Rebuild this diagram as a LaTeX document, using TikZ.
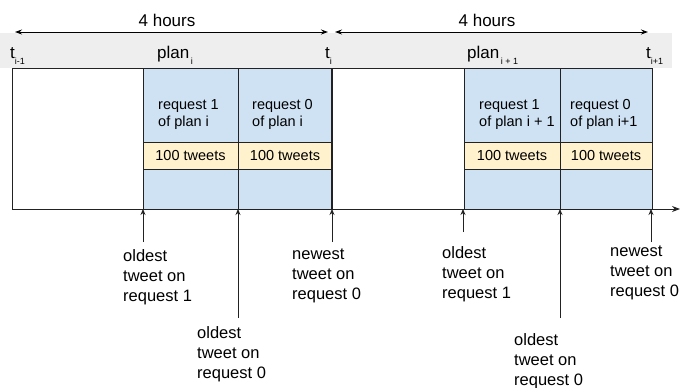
\documentclass[tikz,border=0pt]{standalone}
\usepackage{fontspec}
\setmainfont{Liberation Sans}
\usepackage{tikz}
\usetikzlibrary{arrows.meta, positioning, calc}

\definecolor{bandgray}{HTML}{EEEEEE}
\definecolor{reqblue}{HTML}{CFE2F3}
\definecolor{tweetyellow}{HTML}{FFF2CC}
\definecolor{linegray}{HTML}{222222}

\newcommand{\lowsub}[1]{\raisebox{-6pt}{\fontsize{9}{9}\selectfont #1}}

\tikzset{
  reqcell/.style={draw=linegray, line width=1pt, fill=reqblue},
  tweetcell/.style={draw=linegray, line width=1pt, fill=tweetyellow, minimum height=27pt, inner sep=0pt, font=\fontsize{14.5}{17}\selectfont},
  reqlabel/.style={anchor=north west, inner sep=0pt, align=left, font=\fontsize{14.5}{17}\selectfont},
  mark label/.style={anchor=north west, inner sep=0pt, align=left, font=\fontsize{16.5}{20}\selectfont},
  toplabel/.style={anchor=base west, inner sep=0pt, font=\fontsize{17}{20}\selectfont},
  tick arrow/.style={-{Stealth[length=6pt,width=5pt]}, line width=0.9pt, draw=linegray},
  span arrow/.style={{Stealth[length=7pt,width=5pt]}-{Stealth[length=7pt,width=5pt]}, line width=0.9pt}
}

\begin{document}
\begin{tikzpicture}[x=1pt, y=-1pt]
\useasboundingbox (0,0) rectangle (680,388);

% Band with the plan boundaries
\fill[bandgray] (0,33) rectangle (672,68);

% Plan boxes
\draw[linegray, line width=1pt, fill=white] (12,68) rectangle (332,209);
\draw[linegray, line width=1pt, fill=white] (332,68) rectangle (652,209);

% Requests of plan i
\draw[reqcell] (143,68) rectangle (238,209);
\draw[reqcell] (238,68) rectangle (332,209);
\node[tweetcell, minimum width=95pt] (tw1) at (190.5,155.5) {100 tweets};
\node[tweetcell, minimum width=94pt] (tw0) at (285,155.5) {100 tweets};
\node[reqlabel] (r1) at (158,99) {request 1\\of plan i};
\node[reqlabel] (r0) at (252,99) {request 0\\of plan i};

% Requests of plan i+1
\draw[reqcell] (464,68) rectangle (560,209);
\draw[reqcell] (560,68) rectangle (652,209);
\node[tweetcell, minimum width=96pt] (tw3) at (512,155.5) {100 tweets};
\node[tweetcell, minimum width=92pt] (tw2) at (606,155.5) {100 tweets};
\node[reqlabel] (r3) at (479,99) {request 1\\of plan i + 1};
\node[reqlabel] (r2) at (570,99) {request 0\\of plan i+1};

% Plan divider
\draw[linegray, line width=1.6pt] (332,68) -- (332,209);

% Time axis
\coordinate (ax0) at (12,209);
\coordinate (ax1) at (680,209);
\draw[-{Stealth[length=8pt,width=6pt]}, line width=1pt, linegray] (ax0) -- (ax1);

% Durations
\coordinate (s0) at (15,32);
\coordinate (s1) at (328,32);
\coordinate (s2) at (335,32);
\coordinate (s3) at (648,32);
\draw[span arrow] (s0) -- (s1);
\draw[span arrow] (s2) -- (s3);
\node[anchor=base, font=\fontsize{17}{20}\selectfont] (h0) at (167,26) {4 hours};
\node[anchor=base, font=\fontsize{17}{20}\selectfont] (h1) at (487,26) {4 hours};

% Boundaries and plans
\node[toplabel] (tprev) at (10,58) {t\lowsub{i-1}};
\node[toplabel] (plani) at (157,58) {plan\lowsub{\,i}};
\node[toplabel] (ti) at (325,58) {t\lowsub{i}};
\node[toplabel] (plannext) at (467,58) {plan\lowsub{\,i + 1}};
\node[toplabel] (tnext) at (646,58) {t\lowsub{i+1}};

% Tweet marks, plan i
\node[mark label] (old1) at (123,249) {oldest\\tweet on\\request 1};
\node[mark label] (old0) at (197,326) {oldest\\tweet on\\request 0};
\node[mark label] (new0) at (292,249) {newest\\tweet on\\request 0};
\coordinate (a1) at (143,242);
\coordinate (a2) at (238,318);
\coordinate (a3) at (332,242);
\draw[tick arrow] (a1) -- (a1 |- ax0);
\draw[tick arrow] (a2) -- (a2 |- ax0);
\draw[tick arrow] (a3) -- (a3 |- ax0);

% Tweet marks, plan i+1
\node[mark label] (old3) at (442,246) {oldest\\tweet on\\request 1};
\node[mark label] (old2) at (514,333) {oldest\\tweet on\\request 0};
\node[mark label] (new2) at (610,246) {newest\\tweet on\\request 0};
\coordinate (b1) at (463,232);
\coordinate (b2) at (560,318);
\coordinate (b3) at (651,242);
\draw[tick arrow] (b1) -- (b1 |- ax0);
\draw[tick arrow] (b2) -- (b2 |- ax0);
\draw[tick arrow] (b3) -- (b3 |- ax0);
\end{tikzpicture}
\end{document}
